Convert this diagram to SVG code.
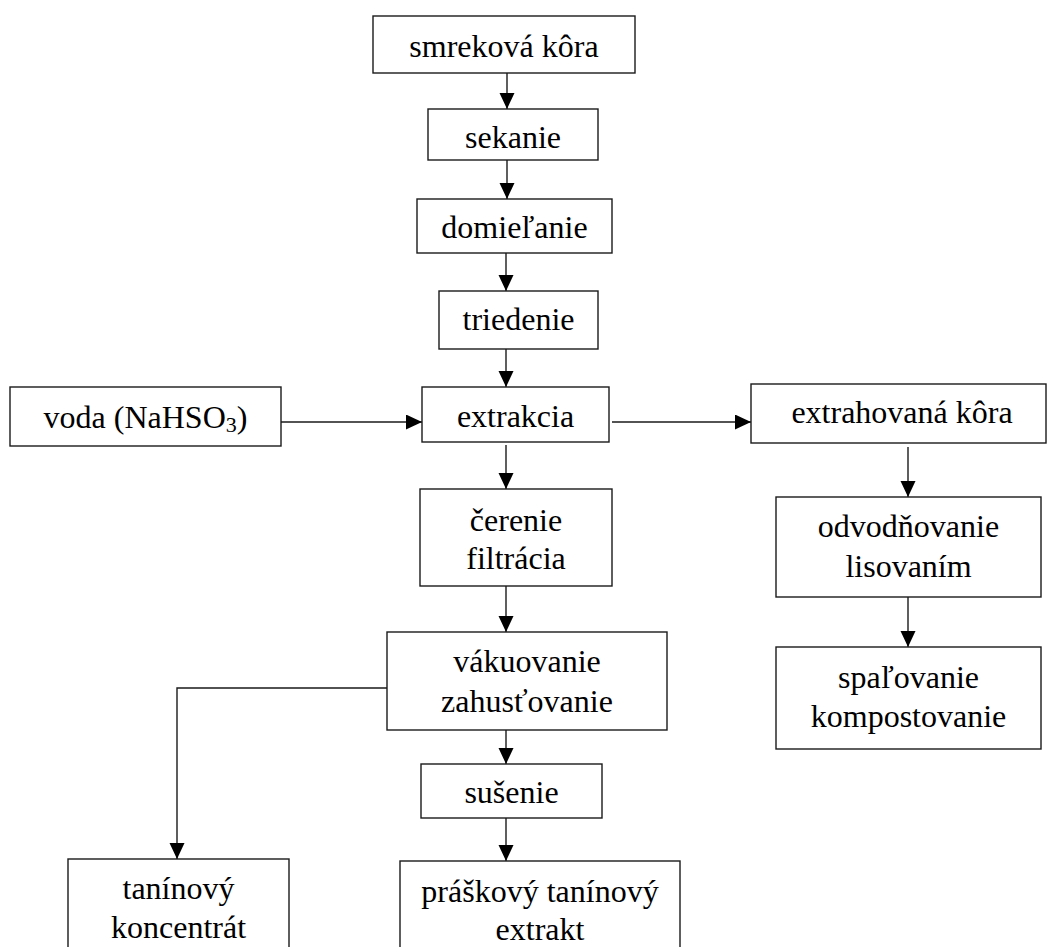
<svg xmlns="http://www.w3.org/2000/svg" width="1047" height="947" viewBox="0 0 1047 947">
<defs>
<style>
.box{fill:#fff;stroke:#1a1a1a;stroke-width:1.4}
.t{font-family:"Liberation Serif","Times New Roman",serif;font-size:32px;fill:#000;text-anchor:middle}
.c{fill:none;stroke:#1a1a1a;stroke-width:1.4}
</style>
<marker id="ah" markerUnits="userSpaceOnUse" markerWidth="17" markerHeight="16" refX="16" refY="7.5" orient="auto">
<path d="M0,0 L16,7.5 L0,15 z" fill="#000"/>
</marker>
</defs>
<rect width="1047" height="947" fill="#fff"/>
<g id="connectors">
<line class="c" x1="507" y1="73" x2="507" y2="109" marker-end="url(#ah)"/>
<line class="c" x1="507" y1="160" x2="507" y2="199" marker-end="url(#ah)"/>
<line class="c" x1="506" y1="253" x2="506" y2="291" marker-end="url(#ah)"/>
<line class="c" x1="506" y1="349" x2="506" y2="387" marker-end="url(#ah)"/>
<line class="c" x1="281" y1="422" x2="422" y2="422" marker-end="url(#ah)"/>
<line class="c" x1="612" y1="422" x2="751" y2="422" marker-end="url(#ah)"/>
<line class="c" x1="506" y1="445" x2="506" y2="489" marker-end="url(#ah)"/>
<line class="c" x1="908" y1="447" x2="908" y2="497" marker-end="url(#ah)"/>
<line class="c" x1="908" y1="597" x2="908" y2="647" marker-end="url(#ah)"/>
<line class="c" x1="506" y1="586" x2="506" y2="632" marker-end="url(#ah)"/>
<polyline class="c" points="387,688 177,688 177,859" marker-end="url(#ah)"/>
<line class="c" x1="506" y1="730" x2="506" y2="764" marker-end="url(#ah)"/>
<line class="c" x1="506" y1="818" x2="506" y2="861" marker-end="url(#ah)"/>
</g>
<g id="n-smrekova"><rect class="box" x="373" y="16" width="262" height="57"/><text class="t" x="504" y="57">smreková kôra</text></g>
<g id="n-sekanie"><rect class="box" x="428" y="109" width="170" height="51"/><text class="t" x="513" y="148">sekanie</text></g>
<g id="n-domielanie"><rect class="box" x="417" y="199" width="195" height="54"/><text class="t" x="514.5" y="238">domieľanie</text></g>
<g id="n-triedenie"><rect class="box" x="439" y="291" width="159" height="58"/><text class="t" x="518.5" y="330">triedenie</text></g>
<g id="n-voda"><rect class="box" x="10" y="387" width="271" height="59"/><text class="t" x="145.5" y="428">voda (NaHSO<tspan font-size="22" dy="4">3</tspan><tspan dy="-4">)</tspan></text></g>
<g id="n-extrakcia"><rect class="box" x="422" y="387" width="187" height="55"/><text class="t" x="515.5" y="427">extrakcia</text></g>
<g id="n-extrahovana"><rect class="box" x="751" y="384" width="295" height="59"/><text class="t" x="902" y="423">extrahovaná kôra</text></g>
<g id="n-cerenie"><rect class="box" x="420" y="489" width="192" height="97"/><text class="t" x="516" y="531">čerenie</text><text class="t" x="516" y="569">filtrácia</text></g>
<g id="n-odvodnovanie"><rect class="box" x="776" y="497" width="265" height="100"/><text class="t" x="908.5" y="537">odvodňovanie</text><text class="t" x="908.5" y="577">lisovaním</text></g>
<g id="n-spalovanie"><rect class="box" x="776" y="647" width="265" height="102"/><text class="t" x="908.5" y="688">spaľovanie</text><text class="t" x="908.5" y="727">kompostovanie</text></g>
<g id="n-vakuovanie"><rect class="box" x="387" y="632" width="280" height="98"/><text class="t" x="527" y="672">vákuovanie</text><text class="t" x="527" y="712">zahusťovanie</text></g>
<g id="n-susenie"><rect class="box" x="421" y="764" width="181" height="54"/><text class="t" x="511.5" y="803">sušenie</text></g>
<g id="n-taninovy"><rect class="box" x="68" y="859" width="221" height="110"/><text class="t" x="178.5" y="899">tanínový</text><text class="t" x="178.5" y="938">koncentrát</text></g>
<g id="n-praskovy"><rect class="box" x="400" y="861" width="280" height="110"/><text class="t" x="540" y="902">práškový tanínový</text><text class="t" x="540" y="940">extrakt</text></g>
</svg>
